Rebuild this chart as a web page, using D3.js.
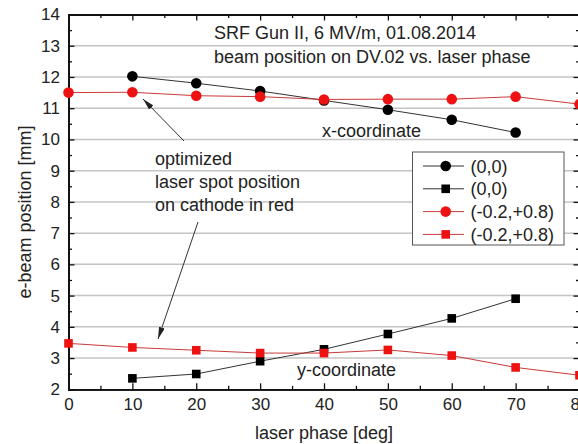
<!DOCTYPE html>
<html><head><meta charset="utf-8">
<script src="https://cdn.jsdelivr.net/npm/d3@7"></script>
<style>
body{margin:0;background:#fff;}
svg{display:block;font-family:"Liberation Sans",Arial,sans-serif;}
</style></head>
<body>
<svg id="c" width="578" height="444"></svg>
<script>
// ---- data ----
const phasesBlack = [10, 20, 30, 40, 50, 60, 70];
const phasesRed = [0, 10, 20, 30, 40, 50, 60, 70, 80];
const xCoordBlack = [12.02, 11.8, 11.55, 11.25, 10.95, 10.63, 10.22];
const xCoordRed = [11.5, 11.51, 11.4, 11.37, 11.28, 11.29, 11.29, 11.37, 11.13];
const yCoordBlack = [2.35, 2.49, 2.9, 3.28, 3.77, 4.27, 4.9];
const yCoordRed = [3.47, 3.34, 3.25, 3.16, 3.16, 3.26, 3.08, 2.7, 2.45];
const xTicks = [0, 10, 20, 30, 40, 50, 60, 70, 80];
const yTicks = [2, 3, 4, 5, 6, 7, 8, 9, 10, 11, 12, 13, 14];
const legendLabels = ["(0,0)", "(0,0)", "(-0.2,+0.8)", "(-0.2,+0.8)"];

const svg = d3.select("#c");
const x = d3.scaleLinear().domain([0, 80]).range([68.5, 579.5]);
const y = d3.scaleLinear().domain([2, 14]).range([389.3, 14.5]);
const RED = "#ee1111", REDLINE = "#c83a3a", BLK = "#000", BLKLINE = "#333";

// gridlines
svg.append("g").selectAll("line").data(yTicks.filter(v => v > 2 && v < 14)).join("line")
  .attr("x1", x(0)).attr("x2", x(80)).attr("y1", d => y(d)).attr("y2", d => y(d))
  .attr("stroke", "#c4c4c4").attr("stroke-width", 1.5);

const minorX = d3.range(5, 80, 10);
const minorY = d3.range(2.5, 14, 1);

function styleAxis(g) {
  g.select(".domain").attr("stroke", "#111").attr("stroke-width", 1.8);
  g.selectAll(".tick line").attr("stroke", "#111").attr("stroke-width", 1.3);
  g.selectAll("text").attr("font-size", 17).attr("fill", "#222").attr("font-family", "Liberation Sans, Arial, sans-serif");
}
// bottom
svg.append("g").attr("transform", `translate(0,${y(2)})`)
  .call(d3.axisBottom(x).tickValues(xTicks).tickSize(-6).tickPadding(9).tickFormat(d3.format("d")))
  .call(styleAxis);
svg.append("g").attr("transform", `translate(0,${y(2)})`)
  .call(d3.axisBottom(x).tickValues(minorX).tickSize(-3.5).tickFormat(""))
  .call(styleAxis);
// top
svg.append("g").attr("transform", `translate(0,${y(14)})`)
  .call(d3.axisTop(x).tickValues(xTicks).tickSize(-6).tickFormat(""))
  .call(styleAxis);
svg.append("g").attr("transform", `translate(0,${y(14)})`)
  .call(d3.axisTop(x).tickValues(minorX).tickSize(-3.5).tickFormat(""))
  .call(styleAxis);
// left
svg.append("g").attr("transform", `translate(${x(0)},0)`)
  .call(d3.axisLeft(y).tickValues(yTicks).tickSize(-6).tickPadding(8.5).tickFormat(d3.format("d")))
  .call(styleAxis);
svg.append("g").attr("transform", `translate(${x(0)},0)`)
  .call(d3.axisLeft(y).tickValues(minorY).tickSize(-3.5).tickFormat(""))
  .call(styleAxis);
// right
svg.append("g").attr("transform", `translate(${x(80)},0)`)
  .call(d3.axisRight(y).tickValues(yTicks).tickSize(-6).tickFormat(""))
  .call(styleAxis);
svg.append("g").attr("transform", `translate(${x(80)},0)`)
  .call(d3.axisRight(y).tickValues(minorY).tickSize(-3.5).tickFormat(""))
  .call(styleAxis);

// axis titles
svg.append("text").attr("x", 324).attr("y", 439).attr("text-anchor", "middle")
  .attr("font-size", 18).attr("fill", "#222").text("laser phase [deg]");
svg.append("text").attr("transform", "translate(31,212) rotate(-90)").attr("text-anchor", "middle")
  .attr("font-size", 18).attr("fill", "#222").text("e-beam position [mm]");

// series
const line = d3.line().x(d => x(d[0])).y(d => y(d[1]));
function series(ph, vals, lc, mc, shape) {
  const pts = ph.map((p, i) => [p, vals[i]]);
  svg.append("path").datum(pts).attr("d", line).attr("fill", "none")
    .attr("stroke", lc).attr("stroke-width", 1);
  const g = svg.append("g");
  if (shape === "circle") {
    g.selectAll("circle").data(pts).join("circle")
      .attr("cx", d => x(d[0])).attr("cy", d => y(d[1])).attr("r", 5.3).attr("fill", mc);
  } else {
    const s = 8.6;
    g.selectAll("rect").data(pts).join("rect")
      .attr("x", d => x(d[0]) - s / 2).attr("y", d => y(d[1]) - s / 2)
      .attr("width", s).attr("height", s).attr("fill", mc);
  }
}
series(phasesBlack, xCoordBlack, BLKLINE, BLK, "circle");
series(phasesBlack, yCoordBlack, BLKLINE, BLK, "square");
series(phasesRed, xCoordRed, REDLINE, RED, "circle");
series(phasesRed, yCoordRed, REDLINE, RED, "square");

// annotations
const T = (tx, ty, s) => svg.append("text").attr("x", tx).attr("y", ty)
  .attr("font-size", 18).attr("fill", "#222").text(s);
T(214, 39, "SRF Gun II, 6 MV/m, 01.08.2014");
T(214, 63, "beam position on DV.02 vs. laser phase");
T(322, 137, "x-coordinate");
T(297, 376, "y-coordinate");
T(155, 165, "optimized");
T(155, 188, "laser spot position");
T(155, 211, "on cathode in red");

// arrows
const defs = svg.append("defs");
defs.append("marker").attr("id", "ah").attr("viewBox", "0 0 12 6")
  .attr("refX", 12).attr("refY", 3).attr("markerWidth", 12).attr("markerHeight", 6)
  .attr("markerUnits", "userSpaceOnUse").attr("orient", "auto")
  .append("path").attr("d", "M0,0 L12,3 L0,6 Z").attr("fill", "#222");
svg.append("line").attr("x1", 184).attr("y1", 141).attr("x2", 143).attr("y2", 99)
  .attr("stroke", "#333").attr("stroke-width", 1).attr("marker-end", "url(#ah)");
svg.append("line").attr("x1", 198).attr("y1", 222).attr("x2", 158).attr("y2", 339)
  .attr("stroke", "#333").attr("stroke-width", 1).attr("marker-end", "url(#ah)");

// legend
const lg = svg.append("g");
lg.append("rect").attr("x", 412.5).attr("y", 152).attr("width", 151.5).attr("height", 93)
  .attr("fill", "#fff").attr("stroke", "#555").attr("stroke-width", 1);
const legendColors = [[BLKLINE, BLK, "circle"], [BLKLINE, BLK, "square"], [REDLINE, RED, "circle"], [REDLINE, RED, "square"]];
legendLabels.forEach((lab, i) => {
  const cy = 166 + i * 22.8;
  const [lc, mc, shape] = legendColors[i];
  lg.append("line").attr("x1", 423).attr("x2", 464).attr("y1", cy).attr("y2", cy)
    .attr("stroke", lc).attr("stroke-width", 1);
  if (shape === "circle") lg.append("circle").attr("cx", 445.7).attr("cy", cy).attr("r", 5.3).attr("fill", mc);
  else lg.append("rect").attr("x", 445.7 - 4.3).attr("y", cy - 4.3).attr("width", 8.6).attr("height", 8.6).attr("fill", mc);
  lg.append("text").attr("x", 470.5).attr("y", cy + 6.5).attr("font-size", 18).attr("fill", "#222").text(lab);
});
</script>
</body></html>
